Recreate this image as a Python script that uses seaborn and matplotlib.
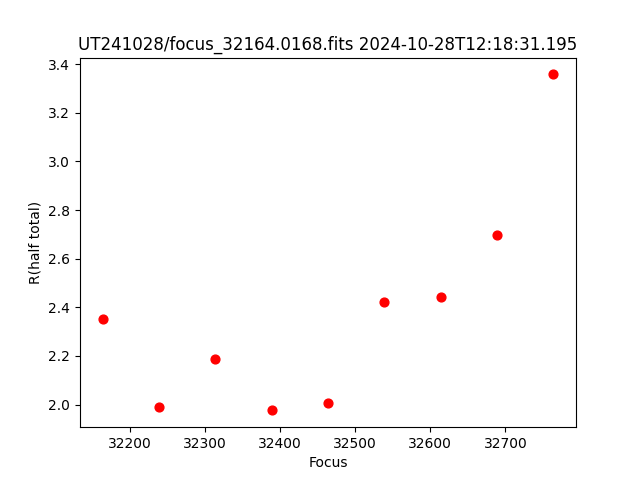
import matplotlib
matplotlib.use("Agg")
import matplotlib.pyplot as plt
import seaborn as sns
import pandas as pd

focus = [32164, 32239, 32314, 32389, 32464, 32539, 32614, 32689, 32764]
r_half = [2.35, 1.988, 2.186, 1.976, 2.005, 2.42, 2.442, 2.697, 3.358]

df = pd.DataFrame({"Focus": focus, "R(half total)": r_half})

fig, ax = plt.subplots(figsize=(6.4, 4.8), dpi=100)
sns.scatterplot(data=df, x="Focus", y="R(half total)", color="red",
                s=40, edgecolor="red", linewidth=1, ax=ax)
ax.set_title("UT241028/focus_32164.0168.fits 2024-10-28T12:18:31.195")
fig.savefig("out.png")
